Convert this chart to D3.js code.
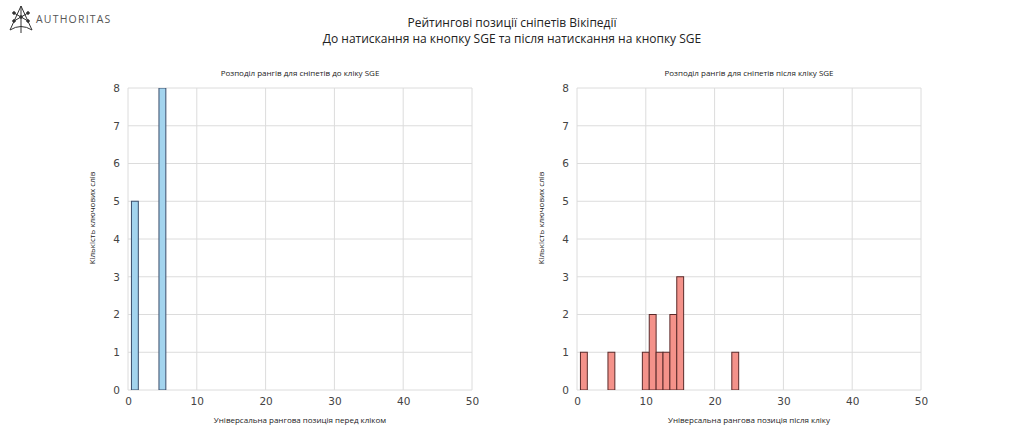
<!DOCTYPE html>
<html><head><meta charset="utf-8">
<script src="https://cdn.jsdelivr.net/npm/d3@7"></script>
<style>body{margin:0;background:#fff}svg{display:block}</style>
</head><body>
<svg id="c" width="1024" height="439"></svg>
<script>
const titleLines = ["Рейтингові позиції сніпетів Вікіпедії", "До натискання на кнопку SGE та після натискання на кнопку SGE"];
const leftTitle = "Розподіл рангів для сніпетів до кліку SGE";
const rightTitle = "Розподіл рангів для сніпетів після кліку SGE";
const leftXLabel = "Універсальна рангова позиція перед кліком";
const rightXLabel = "Універсальна рангова позиція після кліку";
const yLabel = "Кількість ключових слів";
const xTicks = [0, 10, 20, 30, 40, 50];
const yTicks = [0, 1, 2, 3, 4, 5, 6, 7, 8];
const beforeRanks = [1, 5];
const beforeCounts = [5, 8];
const afterRanks = [1, 5, 10, 11, 12, 13, 14, 15, 23];
const afterCounts = [1, 1, 1, 2, 1, 1, 2, 3, 1];

const svg = d3.select("#c");
const tickFont = "DejaVu Sans, sans-serif";
const textFont = "'Open Sans', 'Noto Sans', sans-serif";

// logo
const logo = svg.append("g").attr("transform", "translate(8,3)").attr("stroke", "#333").attr("fill", "none").attr("stroke-width", 1);
logo.append("path").attr("d", "M13,3 L2,27 M13,3 L24,27 M2,27 Q13,20 24,27 M6,10 L20,18 M20,10 L6,18 M13,3 L13,30");
[[6,10],[20,10],[13,14],[6,18],[20,18]].forEach(p => logo.append("circle").attr("cx", p[0]).attr("cy", p[1]).attr("r", 1.3).attr("fill", "#333"));
svg.append("text").attr("x", 36).attr("y", 23).attr("font-family", textFont).attr("font-size", 10.5)
  .attr("letter-spacing", 1.2).attr("fill", "#555").text("AUTHORITAS");

titleLines.forEach((t, i) => svg.append("text").attr("x", 512).attr("y", 27 + i * 16).attr("text-anchor", "middle")
  .attr("font-family", textFont).attr("font-size", 12).attr("fill", "#222").text(t));

function panel(x0, x1, ranks, counts, title, xlabel, fill, stroke) {
  const y0 = 390, y1 = 88;
  const x = d3.scaleLinear().domain([0, 50]).range([x0, x1]);
  const y = d3.scaleLinear().domain([0, 8]).range([y0, y1]);
  const g = svg.append("g");
  g.selectAll(".gx").data(xTicks).join("line").attr("x1", d => x(d)).attr("x2", d => x(d))
    .attr("y1", y0).attr("y2", y1).attr("stroke", "#dcdcdc").attr("stroke-width", 1);
  g.selectAll(".gy").data(yTicks).join("line").attr("y1", d => y(d)).attr("y2", d => y(d))
    .attr("x1", x0).attr("x2", x1).attr("stroke", "#dcdcdc").attr("stroke-width", 1);
  const clipId = "clip" + x0;
  svg.append("clipPath").attr("id", clipId).append("rect").attr("x", x0).attr("y", y1).attr("width", x1 - x0).attr("height", y0 - y1);
  g.append("g").attr("clip-path", `url(#${clipId})`).selectAll("rect").data(ranks.map((r, i) => ({r, c: counts[i]})))
    .join("rect").attr("x", d => x(d.r - 0.5)).attr("width", d => x(d.r + 0.5) - x(d.r - 0.5))
    .attr("y", d => y(d.c)).attr("height", d => y0 - y(d.c))
    .attr("fill", fill).attr("stroke", stroke).attr("stroke-width", 1);
  const xa = g.append("g").attr("transform", `translate(0,${y0})`)
    .call(d3.axisBottom(x).tickValues(xTicks).tickSize(0).tickPadding(8).tickFormat(d3.format("d")));
  xa.select(".domain").remove();
  xa.selectAll("text").attr("font-family", tickFont).attr("font-size", 10.5).attr("fill", "#444");
  const ya = g.append("g").attr("transform", `translate(${x0},0)`)
    .call(d3.axisLeft(y).tickValues(yTicks).tickSize(0).tickPadding(8).tickFormat(d3.format("d")));
  ya.select(".domain").remove();
  ya.selectAll("text").attr("font-family", tickFont).attr("font-size", 10.5).attr("fill", "#444");
  g.append("text").attr("x", (x0 + x1) / 2).attr("y", 76).attr("text-anchor", "middle")
    .attr("font-family", textFont).attr("font-size", 8).attr("fill", "#222").text(title);
  g.append("text").attr("x", (x0 + x1) / 2).attr("y", 423).attr("text-anchor", "middle")
    .attr("font-family", textFont).attr("font-size", 8).attr("fill", "#222").text(xlabel);
  g.append("text").attr("transform", `translate(${x0 - 33},218) rotate(-90)`).attr("text-anchor", "middle")
    .attr("font-family", textFont).attr("font-size", 8).attr("fill", "#222").text(yLabel);
}
panel(128, 472, beforeRanks, beforeCounts, leftTitle, leftXLabel, "#a3d4ee", "#3b4d6b");
panel(577, 921, afterRanks, afterCounts, rightTitle, rightXLabel, "#f4928a", "#5a2a2a");
</script>
</body></html>
